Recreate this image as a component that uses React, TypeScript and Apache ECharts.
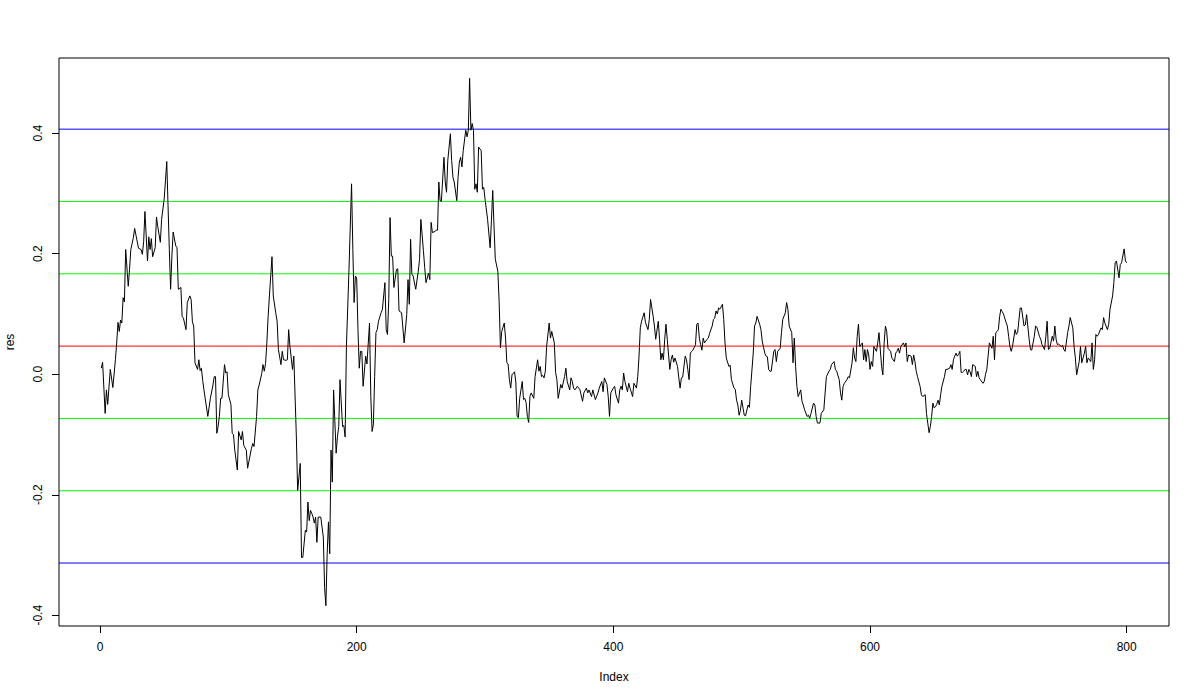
import React, { useEffect, useRef } from "react";
import * as echarts from "echarts";

// Index positions (turning points of the trace)
const idx = [
  1, 2, 4, 5, 6, 8, 10, 12, 13, 14, 15, 16, 17, 18, 19, 20, 22, 23, 24, 26, 27, 30, 32, 33, 34, 35, 37, 38, 39, 40,
  41, 43, 44, 45, 47, 48, 50, 51, 52, 53, 54, 55, 56, 57, 59, 60, 61, 63, 64, 65, 67, 68, 70, 71, 72, 73, 74, 76, 77, 78,
  79, 80, 81, 84, 86, 88, 89, 90, 91, 92, 93, 94, 95, 97, 98, 99, 100, 102, 103, 104, 105, 107, 108, 110, 111, 112, 114, 115, 117, 118,
  119, 120, 122, 123, 124, 126, 127, 128, 129, 130, 131, 132, 134, 135, 137, 138, 139, 141, 142, 143, 145, 146, 147, 148, 150, 151, 153, 154, 156, 157,
  158, 160, 161, 162, 163, 164, 165, 166, 167, 168, 169, 170, 172, 174, 175, 176, 177, 178, 179, 180, 181, 182, 184, 185, 186, 187, 189, 190, 191, 192,
  194, 196, 197, 198, 199, 200, 201, 202, 203, 204, 205, 207, 208, 210, 211, 212, 213, 214, 215, 216, 217, 219, 220, 222, 223, 224, 225, 226, 227, 228,
  229, 231, 232, 233, 235, 237, 239, 240, 241, 242, 243, 244, 246, 248, 249, 250, 252, 253, 254, 256, 257, 258, 259, 261, 262, 263, 264, 265, 266, 268,
  269, 270, 271, 273, 274, 275, 276, 278, 279, 280, 281, 282, 283, 285, 286, 287, 288, 289, 290, 291, 292, 293, 294, 295, 297, 298, 299, 300, 302, 304,
  305, 306, 307, 308, 310, 311, 312, 313, 315, 316, 317, 318, 319, 320, 321, 323, 324, 325, 326, 327, 328, 329, 330, 331, 332, 333, 334, 335, 336, 338,
  339, 341, 342, 343, 344, 345, 346, 347, 348, 350, 351, 352, 354, 355, 356, 357, 359, 360, 362, 363, 364, 366, 367, 368, 369, 370, 372, 374, 376, 377,
  379, 380, 381, 383, 384, 386, 388, 389, 391, 392, 393, 395, 396, 397, 398, 400, 401, 402, 404, 405, 406, 407, 408, 409, 411, 412, 413, 415, 416, 418,
  419, 420, 421, 422, 424, 425, 427, 428, 429, 431, 432, 433, 435, 436, 437, 438, 439, 440, 441, 442, 444, 445, 446, 447, 448, 450, 451, 452, 453, 454,
  456, 457, 458, 459, 460, 461, 462, 464, 465, 466, 467, 468, 469, 470, 471, 473, 474, 475, 477, 478, 479, 480, 481, 482, 483, 485, 486, 487, 488, 490,
  491, 492, 494, 495, 496, 497, 498, 499, 500, 502, 503, 505, 506, 507, 509, 510, 511, 512, 514, 515, 516, 518, 519, 520, 521, 522, 523, 525, 526, 527,
  528, 530, 531, 532, 534, 535, 536, 537, 539, 540, 541, 542, 543, 544, 546, 547, 548, 549, 551, 552, 553, 554, 556, 557, 558, 559, 561, 562, 564, 565,
  566, 568, 569, 570, 572, 573, 574, 576, 577, 578, 579, 580, 582, 583, 584, 586, 587, 588, 589, 590, 591, 592, 594, 595, 596, 597, 598, 599, 600, 601,
  602, 603, 605, 606, 607, 609, 610, 611, 612, 613, 614, 616, 617, 619, 620, 621, 622, 623, 624, 626, 627, 628, 629, 630, 632, 633, 634, 635, 636, 637,
  638, 639, 640, 641, 643, 644, 645, 646, 647, 648, 649, 650, 651, 652, 653, 654, 655, 656, 658, 659, 660, 662, 663, 664, 665, 666, 667, 668, 669, 670,
  671, 672, 673, 674, 675, 676, 677, 678, 679, 680, 682, 683, 684, 685, 686, 688, 689, 690, 691, 692, 693, 695, 696, 697, 698, 699, 700, 701, 702, 703,
  704, 706, 707, 708, 709, 710, 711, 713, 714, 715, 717, 718, 719, 720, 721, 722, 724, 725, 726, 728, 729, 730, 732, 733, 734, 736, 737, 738, 739, 740,
  742, 743, 744, 745, 746, 747, 749, 750, 751, 752, 754, 755, 756, 758, 759, 760, 761, 763, 764, 765, 767, 768, 769, 770, 772, 773, 774, 775, 776, 777,
  778, 780, 781, 782, 783, 785, 786, 787, 789, 790, 791, 792, 794, 795, 796, 798, 799, 800,
];

// res values, one per index above
const res = [
  0.010, 0.020, -0.065, -0.026, -0.050, 0.008, -0.022, 0.024, 0.052, 0.086, 0.071, 0.090, 0.085, 0.127, 0.120, 0.207, 0.146, 0.174, 0.207, 0.227, 0.242, 0.209, 0.207, 0.199, 0.220, 0.270, 0.188, 0.228, 0.207, 0.225,
  0.195, 0.210, 0.261, 0.245, 0.219, 0.257, 0.291, 0.321, 0.353, 0.280, 0.207, 0.141, 0.196, 0.236, 0.213, 0.210, 0.141, 0.144, 0.096, 0.093, 0.074, 0.119, 0.130, 0.124, 0.087, 0.080, 0.019, 0.008, 0.024, 0.006,
  0.010, -0.010, -0.026, -0.070, -0.040, -0.018, -0.004, -0.004, -0.098, -0.087, -0.070, -0.040, -0.040, 0.016, 0.002, 0.004, -0.034, -0.050, -0.098, -0.100, -0.126, -0.159, -0.095, -0.109, -0.095, -0.118, -0.126, -0.156, -0.134, -0.123,
  -0.115, -0.120, -0.070, -0.026, -0.018, 0.001, 0.016, 0.005, 0.018, 0.052, 0.096, 0.130, 0.195, 0.130, 0.101, 0.088, 0.041, 0.016, 0.038, 0.024, 0.023, 0.024, 0.074, 0.046, 0.008, 0.030, -0.104, -0.193, -0.148, -0.304,
  -0.304, -0.259, -0.262, -0.212, -0.243, -0.226, -0.231, -0.237, -0.247, -0.237, -0.279, -0.237, -0.237, -0.270, -0.354, -0.384, -0.298, -0.245, -0.298, -0.126, -0.179, -0.026, -0.131, -0.104, -0.087, -0.009, -0.087, -0.085, -0.104, 0.046,
  0.174, 0.316, 0.207, 0.119, 0.163, 0.160, 0.074, 0.010, 0.038, 0.038, -0.020, 0.030, 0.017, 0.085, -0.037, -0.095, -0.084, -0.004, 0.069, 0.074, 0.088, 0.102, 0.107, 0.152, 0.074, 0.066, 0.124, 0.260, 0.196, 0.196,
  0.144, 0.174, 0.175, 0.105, 0.102, 0.052, 0.099, 0.157, 0.116, 0.224, 0.166, 0.163, 0.141, 0.171, 0.191, 0.257, 0.205, 0.177, 0.152, 0.168, 0.157, 0.252, 0.235, 0.237, 0.239, 0.239, 0.319, 0.288, 0.287, 0.360,
  0.319, 0.302, 0.355, 0.399, 0.355, 0.327, 0.319, 0.288, 0.327, 0.352, 0.360, 0.344, 0.371, 0.405, 0.394, 0.405, 0.491, 0.405, 0.416, 0.405, 0.307, 0.316, 0.302, 0.377, 0.371, 0.307, 0.310, 0.291, 0.257, 0.210,
  0.255, 0.305, 0.246, 0.191, 0.171, 0.121, 0.044, 0.071, 0.085, 0.060, 0.019, 0.017, -0.009, -0.023, -0.001, 0.004, -0.013, -0.070, -0.072, -0.040, -0.026, -0.012, -0.042, -0.040, -0.047, -0.070, -0.080, -0.037, -0.031, -0.040,
  -0.004, 0.024, 0.005, 0.013, -0.004, -0.002, -0.006, 0.005, 0.046, 0.085, 0.060, 0.071, 0.052, 0.003, -0.009, -0.040, -0.017, -0.023, -0.004, 0.010, -0.012, -0.026, -0.006, -0.012, -0.023, -0.026, -0.020, -0.026, -0.045, -0.031,
  -0.023, -0.031, -0.026, -0.037, -0.026, -0.042, -0.031, -0.023, -0.012, -0.029, -0.006, -0.017, -0.037, -0.070, -0.031, -0.023, -0.020, -0.034, -0.048, -0.026, -0.020, -0.026, 0.002, -0.012, -0.029, -0.015, -0.023, -0.037, -0.015, -0.023,
  -0.004, 0.030, 0.077, 0.088, 0.102, 0.086, 0.074, 0.091, 0.124, 0.096, 0.080, 0.058, 0.088, 0.058, 0.024, 0.035, 0.024, 0.058, 0.083, 0.058, 0.008, 0.024, 0.032, 0.020, 0.027, 0.013, -0.006, -0.023, -0.006, -0.005,
  0.030, 0.024, 0.008, -0.009, 0.035, 0.038, 0.040, 0.049, 0.083, 0.085, 0.060, 0.049, 0.040, 0.060, 0.052, 0.058, 0.060, 0.068, 0.080, 0.091, 0.093, 0.105, 0.100, 0.110, 0.108, 0.116, 0.091, 0.052, 0.027, 0.013,
  0.015, -0.009, -0.023, -0.025, -0.043, -0.051, -0.068, -0.060, -0.043, -0.068, -0.069, -0.051, -0.055, -0.020, 0.035, 0.080, 0.085, 0.096, 0.083, 0.074, 0.055, 0.035, 0.030, 0.029, 0.008, 0.005, 0.005, 0.038, 0.041, 0.021,
  0.038, 0.043, 0.069, 0.091, 0.102, 0.119, 0.108, 0.080, 0.069, 0.019, 0.060, 0.013, -0.020, -0.037, -0.026, -0.045, -0.051, -0.059, -0.070, -0.068, -0.073, -0.065, -0.048, -0.051, -0.070, -0.081, -0.081, -0.065, -0.059, -0.031,
  -0.004, 0.005, 0.008, 0.016, 0.021, 0.008, 0.005, -0.009, -0.031, -0.043, -0.020, -0.015, -0.009, -0.004, -0.006, 0.019, 0.044, 0.027, 0.021, 0.063, 0.083, 0.046, 0.052, 0.024, 0.041, 0.021, 0.041, 0.032, 0.008, 0.021,
  0.013, 0.046, 0.038, 0.052, 0.069, 0.013, -0.001, 0.052, 0.080, 0.071, 0.043, 0.038, 0.027, 0.021, 0.035, 0.038, 0.043, 0.035, 0.046, 0.052, 0.046, 0.052, 0.021, 0.032, 0.030, 0.016, 0.032, 0.021, 0.005, -0.004,
  -0.012, -0.020, -0.034, -0.037, -0.034, -0.065, -0.081, -0.097, -0.087, -0.070, -0.048, -0.056, -0.054, -0.050, -0.043, -0.051, -0.034, -0.020, -0.004, 0.008, 0.008, 0.010, 0.016, 0.008, 0.024, 0.030, 0.035, 0.030, 0.033, 0.038,
  0.003, 0.003, 0.005, 0.008, 0.008, -0.001, 0.008, 0.004, -0.004, 0.016, 0.013, -0.004, 0.005, -0.006, -0.009, -0.015, -0.012, 0.000, 0.008, 0.030, 0.052, 0.043, 0.063, 0.024, 0.069, 0.071, 0.074, 0.096, 0.108, 0.104,
  0.100, 0.086, 0.080, 0.063, 0.046, 0.038, 0.046, 0.074, 0.066, 0.069, 0.110, 0.110, 0.095, 0.080, 0.082, 0.099, 0.058, 0.041, 0.040, 0.063, 0.080, 0.078, 0.063, 0.058, 0.049, 0.041, 0.063, 0.088, 0.041, 0.043,
  0.063, 0.055, 0.080, 0.058, 0.049, 0.050, 0.046, 0.048, 0.041, 0.038, 0.069, 0.080, 0.094, 0.077, 0.046, 0.027, -0.001, 0.021, 0.046, 0.019, 0.035, 0.046, 0.019, 0.027, 0.021, 0.052, 0.008, 0.024, 0.066, 0.063,
  0.066, 0.077, 0.074, 0.094, 0.085, 0.074, 0.083, 0.108, 0.130, 0.152, 0.185, 0.188, 0.160, 0.182, 0.185, 0.208, 0.188, 0.185,
];

// Reference lines: mean and +/- 1, 2, 3 standard deviations
const refLevels = [0.4067, 0.2867, 0.1667, 0.0467, -0.0733, -0.1933, -0.3133];
const refColors = ["#0000ff", "#00ff00", "#00ff00", "#ff0000", "#00ff00", "#00ff00", "#0000ff"];

const xMin = -31.96;
const xMax = 832.96;
const yMin = -0.4178;
const yMax = 0.5248;
const xTicks = [0, 200, 400, 600, 800];
const yTicks = [-0.4, -0.2, 0.0, 0.2, 0.4];
const yTickLabels = ["-0.4", "-0.2", "0.0", "0.2", "0.4"];

export default function App() {
  const ref = useRef<HTMLDivElement>(null);
  useEffect(() => {
    if (!ref.current) return;
    const chart = echarts.init(ref.current, undefined, { renderer: "svg" });
    const font = "'Liberation Sans', Arial, Helvetica, sans-serif";
    const refSeries = refLevels.map((v, i) => ({
      type: "line",
      data: [
        [xMin, v],
        [xMax, v],
      ],
      showSymbol: false,
      symbol: "none",
      silent: true,
      lineStyle: { color: refColors[i], width: 1 },
      itemStyle: { color: refColors[i] },
      z: 2,
    }));
    chart.setOption({
      animation: false,
      backgroundColor: "#ffffff",
      grid: {
        left: 59,
        right: 31,
        top: 58,
        bottom: 74,
        containLabel: false,
        outerBoundsMode: "none",
        show: true,
        borderColor: "#000000",
        borderWidth: 1,
        backgroundColor: "transparent",
        z: 5,
      },
      xAxis: {
        type: "value",
        min: xMin,
        max: xMax,
        name: "Index",
        nameLocation: "middle",
        nameGap: 45,
        nameTextStyle: { color: "#000", fontSize: 12, fontFamily: font },
        axisLine: { show: false, onZero: false },
        axisTick: { show: true, length: 7, customValues: xTicks, lineStyle: { color: "#000" } },
        axisLabel: {
          customValues: xTicks,
          color: "#000",
          fontSize: 12,
          fontFamily: font,
          margin: 15,
        },
        splitLine: { show: false },
      },
      yAxis: {
        type: "value",
        min: yMin,
        max: yMax,
        name: "res",
        nameLocation: "middle",
        nameGap: 43,
        nameRotate: 90,
        nameTextStyle: { color: "#000", fontSize: 12, fontFamily: font },
        axisLine: { show: false, onZero: false },
        axisTick: { show: true, length: 7, customValues: yTicks, lineStyle: { color: "#000" } },
        axisLabel: {
          customValues: yTicks,
          rotate: 90,
          color: "#000",
          fontSize: 12,
          fontFamily: font,
          margin: 15,
          formatter: (v: number) => {
            const i = yTicks.findIndex((t) => Math.abs(t - v) < 1e-9);
            return i >= 0 ? yTickLabels[i] : String(v);
          },
        },
        splitLine: { show: false },
      },
      series: [
        ...refSeries,
        {
          type: "line",
          data: idx.map((x, i) => [x, res[i]]),
          showSymbol: false,
          symbol: "none",
          lineStyle: { color: "#000000", width: 1 },
          itemStyle: { color: "#000000" },
          z: 3,
        },
      ],
    });
    return () => chart.dispose();
  }, []);
  return (
    <div
      ref={ref}
      style={{ position: "fixed", left: 0, top: 0, width: 1200, height: 700, background: "#fff" }}
    />
  );
}
